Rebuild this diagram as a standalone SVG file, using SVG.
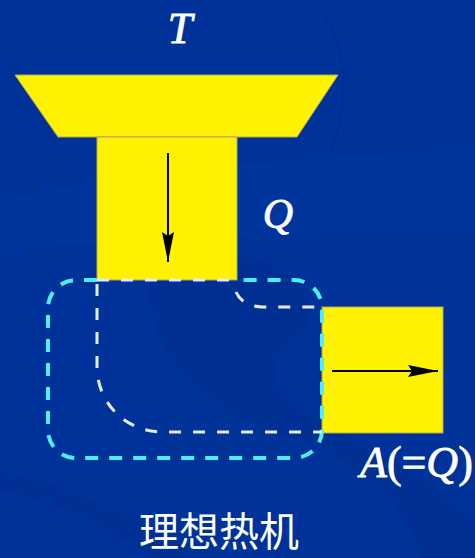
<svg xmlns="http://www.w3.org/2000/svg" width="475" height="558" viewBox="0 0 475 558">
<defs>
<style>
.yel{fill:#fff200;stroke:#b8a848;stroke-width:1}
.cyan{fill:none;stroke:#4eeef2;stroke-width:4;stroke-dasharray:13 11}
.wht{fill:none;stroke:#e6eaf2;stroke-width:3;stroke-dasharray:12 12}
.arr{stroke:#000;stroke-width:2;fill:none}
.lbl{font-family:"Liberation Serif","Times New Roman",serif;font-style:italic;fill:#fff;stroke:#fff;stroke-width:0.8}
.cjk{font-family:"Noto Sans CJK SC","Noto Sans",sans-serif;fill:#fff}
</style>
<marker id="ah" viewBox="0 0 30 12" refX="30" refY="6" markerWidth="30" markerHeight="12" markerUnits="userSpaceOnUse" orient="auto">
<path d="M0,0 L30,6 L0,12 L4,6 Z" fill="#000"/>
</marker>
</defs>
<g id="background">
<rect width="475" height="558" fill="#003399"/>
<path d="M0,200 Q200,160 475,150 L475,230 Q250,230 0,250 Z" fill="#00379f" opacity="0.5"/>
<path d="M150,300 Q140,230 260,260 Q330,280 300,340 Q240,380 320,420 Q420,470 475,520 L475,558 L420,558 Q400,480 300,440 Q160,400 150,300 Z" fill="#002f8f" opacity="0.6"/>
<path d="M0,470 Q120,500 200,558 L150,558 Q90,510 0,490 Z" fill="#002f8f" opacity="0.6"/>
<path d="M325,15 Q360,80 330,150" fill="none" stroke="#002c88" stroke-width="2" opacity="0.7"/>
</g>
<g id="reservoir">
<path class="yel" d="M15,75 L338,75 L297,137 L58,137 Z"/>
</g>
<g id="heat-column">
<rect class="yel" x="97" y="137" width="140" height="143"/>
</g>
<g id="work-block">
<rect class="yel" x="322" y="307" width="121" height="126"/>
</g>
<g id="engine">
<path class="cyan" d="M97,280 H76 A28,28 0 0 0 48,308 V430 A28,28 0 0 0 76,458 H294 A28,28 0 0 0 322,430 V308 A28,28 0 0 0 294,280 H237"/>
<path class="wht" d="M97,280 H237"/>
<path class="wht" d="M97,284 V367 A65,65 0 0 0 162,432 H322"/>
<path class="wht" d="M236,292 Q242,306 262,307 H322"/>
</g>
<g id="connectors">
<line class="arr" x1="168" y1="153" x2="168" y2="262" marker-end="url(#ah)"/>
<line class="arr" x1="332" y1="371" x2="438" y2="371" marker-end="url(#ah)"/>
</g>
<g id="labels">
<text class="lbl" x="180" y="43" font-size="44" text-anchor="middle">T</text>
<text class="lbl" x="278" y="228" font-size="42" text-anchor="middle">Q</text>
<text class="lbl" x="360" y="477" font-size="44"><tspan>A</tspan><tspan font-style="normal">(=</tspan><tspan>Q</tspan><tspan font-style="normal">)</tspan></text>
<text class="cjk" x="219" y="546" font-size="40" text-anchor="middle">理想热机</text>
</g>
</svg>
